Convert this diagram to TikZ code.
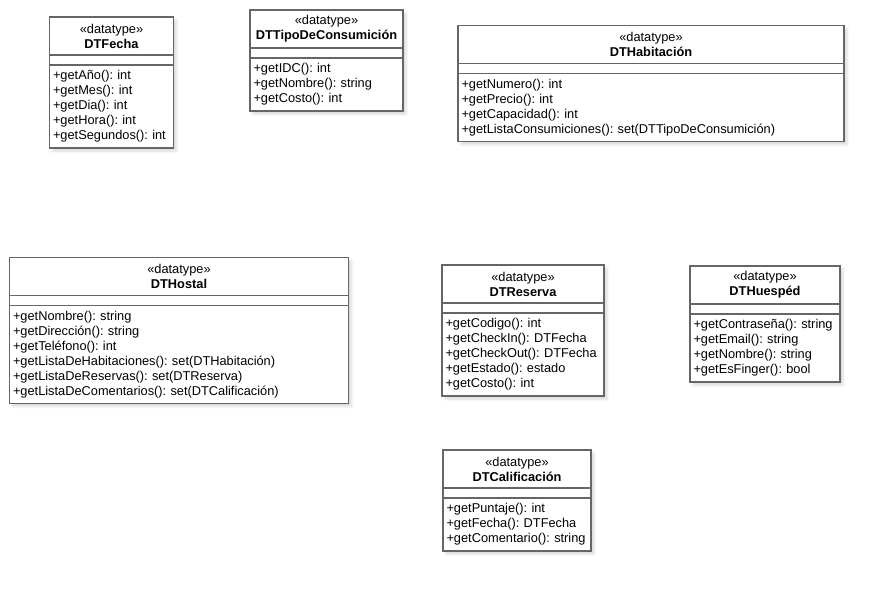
\documentclass[tikz,border=0pt]{standalone}
\usepackage{fontspec}
\setmainfont{Liberation Sans}
\usepackage{tikz}
\usetikzlibrary{positioning, fit, backgrounds, shadows.blur}
\definecolor{dtline}{HTML}{666666}
\frenchspacing
\newcommand\dttitle[1]{%
  «datatype»\\\textbf{#1}}
\tikzset{
  dtshade/.style={inner sep=0pt, blur shadow={shadow blur steps=5,
    shadow xshift=3pt, shadow yshift=-3pt, shadow opacity=15,
    shadow blur radius=2.5pt}},
  dtpart/.style={rectangle, draw=dtline, line width=1.3pt, fill=white,
    outer sep=0pt, minimum width=#1},
  dthead/.style={dtpart=#1, minimum height=38, align=center, inner sep=0pt},
  dtattr/.style={dtpart=#1, minimum height=10, inner sep=0pt},
  dtops/.style 2 args={dtpart=#1, text width={#1-7}, minimum height={15*#2+8},
    align=left, inner xsep=3.5pt, inner ysep=3pt},
}

\begin{document}
\begin{tikzpicture}[x=1pt, y=-1pt, font=\fontsize{12.8}{15}\selectfont]
\useasboundingbox (0,0) rectangle (884,590);
% DTFecha
\node[dthead=124, anchor=north west] (fecha) at (49.5,17) {\dttitle{DTFecha}};
\node[dtattr=124, below=0pt of fecha] (fecha-a) {};
\node[dtops={124}{5}, below=0pt of fecha-a] (fecha-o)
  {+getAño(): int\\+getMes(): int\\+getDia(): int\\+getHora(): int\\+getSegundos(): int};
% DTTipoDeConsumicion
\node[dthead=153, anchor=north west] (tipo) at (250,10) {\dttitle{DTTipoDeConsumición}};
\node[dtattr=153, below=0pt of tipo] (tipo-a) {};
\node[dtops={153}{3}, below=0pt of tipo-a] (tipo-o)
  {+getIDC(): int\\+getNombre(): string\\+getCosto(): int};
% DTHabitacion
\node[dthead=386, anchor=north west] (habit) at (458,25.5) {\dttitle{DTHabitación}};
\node[dtattr=386, below=0pt of habit] (habit-a) {};
\node[dtops={386}{4}, below=0pt of habit-a] (habit-o)
  {+getNumero(): int\\+getPrecio(): int\\+getCapacidad(): int\\+getListaConsumiciones(): set(DTTipoDeConsumición)};
% DTHostal
\node[dthead=339, anchor=north west] (hostal) at (9.5,257.5) {\dttitle{DTHostal}};
\node[dtattr=339, below=0pt of hostal] (hostal-a) {};
\node[dtops={339}{6}, below=0pt of hostal-a] (hostal-o)
  {+getNombre(): string\\+getDirección(): string\\+getTeléfono(): int\\+getListaDeHabitaciones(): set(DTHabitación)\\+getListaDeReservas(): set(DTReserva)\\+getListaDeComentarios(): set(DTCalificación)};
% DTReserva
\node[dthead=162, anchor=north west] (reserva) at (442,265) {\dttitle{DTReserva}};
\node[dtattr=162, below=0pt of reserva] (reserva-a) {};
\node[dtops={162}{5}, below=0pt of reserva-a] (reserva-o)
  {+getCodigo(): int\\+getCheckIn(): DTFecha\\+getCheckOut(): DTFecha\\+getEstado(): estado\\+getCosto(): int};
% DTHuesped
\node[dthead=150, anchor=north west] (huesped) at (690,266) {\dttitle{DTHuespéd}};
\node[dtattr=150, below=0pt of huesped] (huesped-a) {};
\node[dtops={150}{4}, below=0pt of huesped-a] (huesped-o)
  {+getContraseña(): string\\+getEmail(): string\\+getNombre(): string\\+getEsFinger(): bool};
% DTCalificacion
\node[dthead=148, anchor=north west] (calif) at (443,450) {\dttitle{DTCalificación}};
\node[dtattr=148, below=0pt of calif] (calif-a) {};
\node[dtops={148}{3}, below=0pt of calif-a] (calif-o)
  {+getPuntaje(): int\\+getFecha(): DTFecha\\+getComentario(): string};
% shadows behind the boxes
\begin{scope}[on background layer]
\node[dtshade, fit=(fecha)(fecha-o)] {};
\node[dtshade, fit=(tipo)(tipo-o)] {};
\node[dtshade, fit=(habit)(habit-o)] {};
\node[dtshade, fit=(hostal)(hostal-o)] {};
\node[dtshade, fit=(reserva)(reserva-o)] {};
\node[dtshade, fit=(huesped)(huesped-o)] {};
\node[dtshade, fit=(calif)(calif-o)] {};
\end{scope}
\end{tikzpicture}
\end{document}
